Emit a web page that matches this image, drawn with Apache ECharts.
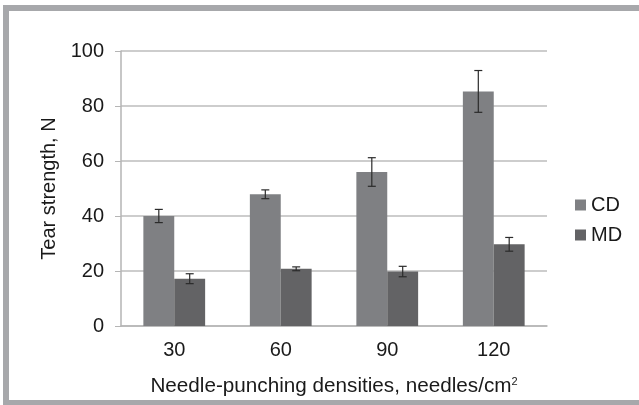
<!DOCTYPE html>
<html>
<head>
<meta charset="utf-8">
<script src="https://cdn.jsdelivr.net/npm/echarts@6/dist/echarts.min.js"></script>
<style>
  html, body { margin: 0; padding: 0; background: #fff; }
  #chart { width: 639px; height: 405px; }
</style>
</head>
<body>
<div id="chart"></div>
<script>
var categories = ['30', '60', '90', '120'];
var cdValues = [40, 47.9, 56, 85.3];
var cdErrors = [2.4, 1.6, 5.2, 7.6];
var mdValues = [17.2, 20.8, 19.8, 29.7];
var mdErrors = [1.8, 0.7, 1.9, 2.5];
var yTicks = [0, 20, 40, 60, 80, 100];

var font = 'Liberation Sans, Arial, sans-serif';
var gapRatio = 0.42;

function errorData(vals, errs) {
    var out = [];
    for (var i = 0; i < vals.length; i++) {
        out.push([i, vals[i] - errs[i], vals[i] + errs[i]]);
    }
    return out;
}

function errorBars(side) {
    return function (params, api) {
        var band = api.size([1, 0])[0];
        var bw = band * (1 - gapRatio) / 2;
        var lo = api.coord([api.value(0), api.value(1)]);
        var hi = api.coord([api.value(0), api.value(2)]);
        var x = lo[0] + side * bw / 2;
        var cap = 4;
        var st = { stroke: '#2b2b2b', lineWidth: 1.2 };
        return {
            type: 'group',
            children: [
                { type: 'line', shape: { x1: x, y1: lo[1], x2: x, y2: hi[1] }, style: st },
                { type: 'line', shape: { x1: x - cap, y1: lo[1], x2: x + cap, y2: lo[1] }, style: st },
                { type: 'line', shape: { x1: x - cap, y1: hi[1], x2: x + cap, y2: hi[1] }, style: st }
            ]
        };
    };
}

var chart = echarts.init(document.getElementById('chart'));
var option = {
    animation: false,
    backgroundColor: '#fff',
    textStyle: { fontFamily: font },
    graphic: [{
        type: 'rect',
        shape: { x: 6, y: 8, width: 650, height: 395 },
        style: { fill: 'none', stroke: '#a7a8ab', lineWidth: 6 },
        silent: true
    }],
    grid: { left: 121, right: 92, top: 51, bottom: 79 },
    legend: {
        orient: 'vertical',
        left: 570,
        top: 190,
        itemWidth: 11,
        itemHeight: 11,
        itemGap: 10,
        icon: 'rect',
        textStyle: { fontSize: 20, color: '#1a1a1a', fontFamily: font },
        data: ['CD', 'MD']
    },
    xAxis: {
        type: 'category',
        data: categories,
        name: 'Needle-punching densities, needles/cm{sup|2}',
        nameLocation: 'middle',
        nameGap: 50,
        nameTextStyle: {
            fontSize: 20.7, color: '#1a1a1a', fontFamily: font,
            rich: { sup: { fontSize: 11, verticalAlign: 'top', padding: [0, 0, 9, 0], color: '#1a1a1a' } }
        },
        axisLine: { lineStyle: { color: '#b5b5b5', width: 1.5 } },
        axisTick: { show: false },
        axisLabel: { fontSize: 20, color: '#1a1a1a', margin: 14 }
    },
    yAxis: {
        type: 'value',
        min: 0,
        max: 100,
        interval: 20,
        name: 'Tear strength, N',
        nameLocation: 'middle',
        nameGap: 61,
        nameTextStyle: { fontSize: 20, color: '#1a1a1a', fontFamily: font },
        axisLine: { show: true, lineStyle: { color: '#b5b5b5', width: 1.5 } },
        axisTick: { show: true, length: 6, lineStyle: { color: '#b5b5b5' } },
        splitLine: { lineStyle: { color: '#bdbdbd', width: 1.5 } },
        axisLabel: {
            fontSize: 20, color: '#1a1a1a', margin: 17,
            formatter: function (v) { return yTicks.indexOf(v) >= 0 ? String(v) : ''; }
        }
    },
    series: [
        {
            name: 'CD', type: 'bar', data: cdValues,
            barGap: '0%', barCategoryGap: (gapRatio * 100) + '%',
            itemStyle: { color: '#7f8083' }
        },
        {
            name: 'MD', type: 'bar', data: mdValues,
            barGap: '0%', barCategoryGap: (gapRatio * 100) + '%',
            itemStyle: { color: '#636365' }
        },
        {
            type: 'custom', renderItem: errorBars(-1),
            data: errorData(cdValues, cdErrors), z: 5, silent: true
        },
        {
            type: 'custom', renderItem: errorBars(1),
            data: errorData(mdValues, mdErrors), z: 5, silent: true
        }
    ]
};
chart.setOption(option);
</script>
</body>
</html>
